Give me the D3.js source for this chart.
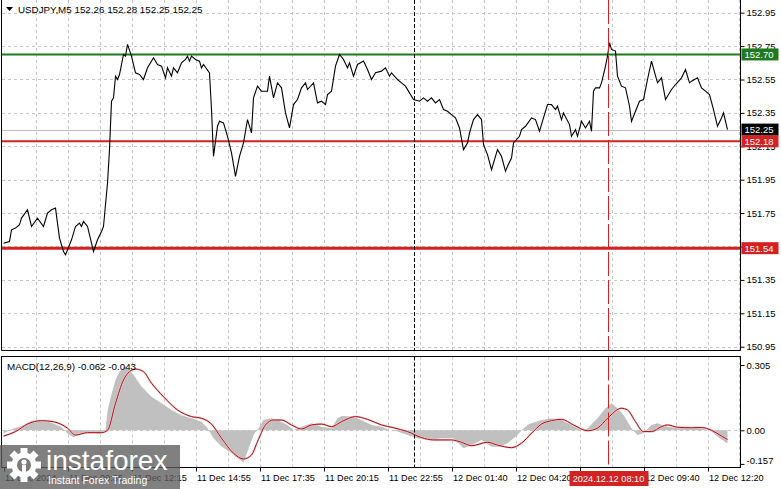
<!DOCTYPE html>
<html><head><meta charset="utf-8">
<script src="https://cdn.jsdelivr.net/npm/d3@7"></script>
<style>
body{margin:0;background:#fff}
svg{display:block}
text{font-family:"Liberation Sans",Arial,sans-serif;fill:#000}
</style>
</head><body>
<svg id="c" width="781" height="489"></svg>
<script>
// ---------------- DATA ----------------
const symbolTitle = "USDJPY,M5  152.26 152.28 152.25 152.25";
const macdTitle = "MACD(12,26,9) -0.062 -0.043";

// price line: bar index (M5 bars) and close
const priceBars = [0,3,4,6,8,9,12,14,17,20,22,24,26,28,30,31,34,36,38,39,40,42,44,45,47,49,50,52,53,54,55,56,57,58,60,61,62,64,66,68,70,72,75,77,79,81,82,84,85,87,89,91,92,93,94,96,98,99,100,103,104,105,107,108,110,112,114,116,118,120,122,124,125,127,129,130,132,133,135,137,139,141,143,145,147,149,151,152,155,157,159,161,162,164,166,168,170,172,173,175,177,180,182,184,186,189,191,193,194,197,199,201,203,205,208,210,212,214,216,218,220,222,224,226,228,230,232,233,235,237,239,240,242,244,247,249,251,252,254,255,258,259,261,264,266,268,270,272,274,276,277,279,280,283,284,286,287,289,291,293,294,295,296,298,299,301,302,303,304,306,307,309,311,313,314,316,318,320,322,324,327,329,331,334,336,339,341,343,344,347,349,351,353,355,357,359,360,362];
const priceValues = [151.57,151.58,151.65,151.66,151.68,151.72,151.77,151.67,151.72,151.67,151.75,151.77,151.78,151.60,151.52,151.50,151.59,151.67,151.69,151.67,151.70,151.67,151.57,151.52,151.59,151.64,151.67,151.93,152.13,152.42,152.44,152.57,152.55,152.58,152.70,152.69,152.76,152.69,152.59,152.58,152.55,152.62,152.68,152.64,152.63,152.56,152.62,152.57,152.62,152.59,152.65,152.67,152.69,152.66,152.69,152.67,152.66,152.62,152.64,152.59,152.37,152.09,152.27,152.30,152.29,152.21,152.11,151.97,152.09,152.17,152.31,152.23,152.44,152.51,152.48,152.48,152.48,152.57,152.44,152.53,152.50,152.35,152.26,152.40,152.43,152.50,152.53,152.49,152.53,152.41,152.42,152.40,152.46,152.48,152.63,152.70,152.67,152.62,152.65,152.57,152.64,152.66,152.61,152.55,152.59,152.60,152.62,152.57,152.59,152.55,152.53,152.51,152.47,152.43,152.42,152.44,152.42,152.44,152.41,152.43,152.37,152.36,152.34,152.32,152.26,152.13,152.17,152.23,152.31,152.34,152.31,152.16,152.10,152.01,152.13,152.09,152.00,152.03,152.08,152.17,152.21,152.25,152.27,152.32,152.31,152.24,152.32,152.40,152.40,152.37,152.39,152.31,152.35,152.28,152.21,152.25,152.21,152.30,152.26,152.30,152.24,152.48,152.50,152.50,152.53,152.63,152.69,152.77,152.73,152.72,152.57,152.51,152.50,152.39,152.30,152.36,152.42,152.43,152.55,152.66,152.53,152.56,152.43,152.49,152.52,152.56,152.61,152.53,152.54,152.56,152.50,152.48,152.46,152.37,152.27,152.32,152.35,152.25];

// MACD histogram (main line)
const macdBars = [0,4,9,14,19,24,29,32,35,39,44,49,51,52,54,56,58,61,65,69,74,79,84,89,94,99,102,105,109,113,116,120,122,125,128,130,134,137,142,145,150,154,159,164,167,169,174,179,184,189,193,197,202,207,212,219,225,230,234,239,244,248,252,257,259,262,264,269,274,279,284,289,292,297,301,304,307,310,314,317,320,324,327,332,337,344,349,354,358,362];
const macdValues = [-0.015,0.005,0.02,0.045,0.048,0.035,0.015,-0.015,-0.033,-0.015,-0.01,-0.015,0,0.09,0.17,0.235,0.274,0.30,0.26,0.204,0.157,0.126,0.095,0.07,0.056,0.04,0.01,-0.037,-0.076,-0.10,-0.123,-0.150,-0.10,-0.022,0.017,0.048,0.056,0.048,0.025,0.0,0.02,0.033,0.017,0.01,0.056,0.067,0.064,0.048,0.025,0.017,0.0,-0.006,-0.022,-0.037,-0.045,-0.037,-0.037,-0.084,-0.069,-0.045,-0.077,-0.077,-0.061,-0.022,0.0,0.025,0.033,0.048,0.056,0.048,0.025,0.0,0.008,0.056,0.103,0.126,0.103,0.071,0.01,-0.022,-0.014,0.025,0.033,0.017,0.01,0.012,0.01,-0.006,-0.037,-0.062];

// MACD signal line
const signalBars = [0,6,12,19,25,32,36,42,49,52,56,60,63,66,70,74,80,87,94,99,104,109,115,120,124,127,131,135,139,144,149,154,159,164,169,176,182,189,195,202,209,215,224,229,234,242,247,254,259,264,269,274,279,285,292,297,302,309,312,316,320,324,329,332,337,344,349,354,359,362];
const signalValues = [-0.027,-0.006,0.029,0.045,0.04,0.01,-0.022,-0.011,-0.011,0,0.126,0.235,0.274,0.286,0.274,0.22,0.157,0.095,0.064,0.056,0.029,-0.037,-0.107,-0.134,-0.115,-0.053,0.025,0.048,0.048,0.025,0.006,0.025,0.029,0.017,0.04,0.064,0.051,0.025,0.012,-0.006,-0.034,-0.045,-0.045,-0.056,-0.072,-0.056,-0.069,-0.081,-0.06,-0.014,0.029,0.045,0.051,0.025,-0.002,0.01,0.056,0.103,0.095,0.04,-0.006,-0.006,0.017,0.025,0.014,0.012,0.013,0,-0.027,-0.043];

const priceTicks = [152.95,152.75,152.55,152.35,152.15,151.95,151.75,151.55,151.35,151.15,150.95];
const macdTicks = [0.305,0,-0.157];
const macdTickLabels = ["0.305","0.00","-0.157"];
const timeTickBars = [0,32,64,96,128,160,192,224,256,288,320,352];
const timeTickLabels = ["11 Dec 2024","11 Dec 09:35","11 Dec 12:15","11 Dec 14:55","11 Dec 17:35","11 Dec 20:15","11 Dec 22:55","12 Dec 01:40","12 Dec 04:20","12 Dec 07:00","12 Dec 09:40","12 Dec 12:20"];

const levelValues = [152.70,152.18,151.54];
const levelKinds = ["resistance","support","support"];
const bidValue = 152.25;
const daySeparatorBar = 205;
const cursorBar = 302;
const cursorLabel = "2024.12.12 08:10";

// ---------------- LAYOUT ----------------
const svg = d3.select("#c");
const axisX = 740.5;
const mainTop = 0, mainBottom = 350.5;
const macdTop = 356.5, macdBottom = 467.5;

const x = d3.scaleLinear().domain([0, 369]).range([3.5, 741.5]);
const y = d3.scaleLinear().domain([150.95, 152.95]).range([346.7, 12.7]);
const ym = d3.scaleLinear().domain([-0.157, 0.305]).range([463.9, 365.0]);

const gridColor = "#c6c6c6";
const green = "#1f7a1f", red = "#d42121";
const FONT = "Liberation Sans, Arial, sans-serif";

// grid: vertical
const vGrid = d3.range(16, 369, 16);
[[mainTop, mainBottom], [macdTop, macdBottom]].forEach(([t, b]) => {
  svg.append("g").selectAll("line").data(vGrid).join("line")
    .attr("x1", d => Math.round(x(d)) + 0.5).attr("x2", d => Math.round(x(d)) + 0.5)
    .attr("y1", t).attr("y2", b)
    .attr("stroke", gridColor).attr("stroke-dasharray", "3,3");
});
// grid: horizontal main
svg.append("g").selectAll("line").data(priceTicks).join("line")
  .attr("x1", 2).attr("x2", axisX)
  .attr("y1", d => Math.round(y(d)) + 0.5).attr("y2", d => Math.round(y(d)) + 0.5)
  .attr("stroke", gridColor).attr("stroke-dasharray", "3,3");
// grid: zero line macd
svg.append("line").attr("x1", 2).attr("x2", axisX)
  .attr("y1", Math.round(ym(0)) + 0.5).attr("y2", Math.round(ym(0)) + 0.5)
  .attr("stroke", gridColor).attr("stroke-dasharray", "3,3");

// bid line
svg.append("line").attr("x1", 2).attr("x2", axisX)
  .attr("y1", Math.round(y(bidValue)) + 0.5).attr("y2", Math.round(y(bidValue)) + 0.5)
  .attr("stroke", "#bdbdbd");

// level lines
levelValues.forEach((v, i) => {
  svg.append("line").attr("x1", 2).attr("x2", axisX)
    .attr("y1", y(v)).attr("y2", y(v))
    .attr("stroke", levelKinds[i] === "resistance" ? green : red)
    .attr("stroke-width", i === 2 ? 3 : 2);
});

// MACD histogram
const macdData = macdBars.map((b, i) => [b, macdValues[i]]);
svg.append("path").datum(macdData)
  .attr("d", d3.area().x(d => x(d[0])).y0(ym(0)).y1(d => ym(d[1])))
  .attr("fill", "#c0c0c0");

// signal line
const sigData = signalBars.map((b, i) => [b, signalValues[i]]);
const sigLine = d3.line().x(d => x(d[0])).y(d => ym(d[1])).curve(d3.curveMonotoneX);
svg.append("path").datum(sigData).attr("d", sigLine)
  .attr("fill", "none").attr("stroke", "#f4c4c4").attr("stroke-width", 2);
svg.append("path").datum(sigData).attr("d", sigLine)
  .attr("fill", "none").attr("stroke", "#a3101a").attr("stroke-width", 1);

// price line
const priceData = priceBars.map((b, i) => [b, priceValues[i]]);
svg.append("path").datum(priceData)
  .attr("d", d3.line().x(d => x(d[0])).y(d => y(d[1])))
  .attr("fill", "none").attr("stroke", "#000").attr("stroke-width", 1.1);

// day separator and cursor
[[mainTop, mainBottom], [macdTop, macdBottom]].forEach(([t, b]) => {
  svg.append("line").attr("x1", Math.round(x(daySeparatorBar)) + 0.5).attr("x2", Math.round(x(daySeparatorBar)) + 0.5)
    .attr("y1", t).attr("y2", b).attr("stroke", "#000").attr("stroke-dasharray", "4,2");
  svg.append("line").attr("x1", Math.round(x(cursorBar)) + 0.5).attr("x2", Math.round(x(cursorBar)) + 0.5)
    .attr("y1", t).attr("y2", b).attr("stroke", red).attr("stroke-dasharray", "24,4");
});

// frames
svg.append("line").attr("x1", 1.5).attr("x2", 1.5).attr("y1", 0).attr("y2", mainBottom).attr("stroke", "#000");
svg.append("line").attr("x1", 1.5).attr("x2", axisX).attr("y1", mainBottom).attr("y2", mainBottom).attr("stroke", "#000");
svg.append("rect").attr("x", 1.5).attr("y", macdTop).attr("width", axisX - 1.5).attr("height", macdBottom - macdTop)
  .attr("fill", "none").attr("stroke", "#000");

// which tick labels are hidden under value boxes (as in the terminal)
const boxValues = [bidValue, ...levelValues];
const priceLabelHidden = d => boxValues.some(v => Math.abs(y(v) - y(d)) < 4);

// right price axis
const yAxis = svg.append("g").attr("transform", `translate(${axisX},0)`)
  .call(d3.axisRight(y).tickValues(priceTicks)
    .tickFormat(d => priceLabelHidden(d) ? "" : d3.format(".2f")(d)).tickSize(4).tickPadding(2));
yAxis.select(".domain").attr("d", `M0,0V${mainBottom}`).attr("stroke", "#000");
yAxis.selectAll("text").attr("font-size", 9.5).attr("font-family", FONT);

// macd axis
const mAxis = svg.append("g").attr("transform", `translate(${axisX},0)`)
  .call(d3.axisRight(ym).tickValues(macdTicks).tickFormat((d, i) => macdTickLabels[i]).tickSize(4).tickPadding(2));
mAxis.select(".domain").remove();
mAxis.selectAll("text").attr("font-size", 9.5).attr("font-family", FONT);
mAxis.selectAll(".tick").filter((d, i) => i === 2).select("text").attr("dy", "-0.05em");

// time axis
const cx = Math.round(x(cursorBar)) + 0.5;
const timeLabelHidden = b => { const px = x(b); return px > cx - 40 && px < cx + 30; };
const xAxis = svg.append("g").attr("transform", `translate(0,${macdBottom})`)
  .call(d3.axisBottom(x).tickValues(timeTickBars)
    .tickFormat((d, i) => timeLabelHidden(d) ? "" : timeTickLabels[i]).tickSize(4).tickPadding(3));
xAxis.select(".domain").remove();
xAxis.selectAll(".tick line").attr("transform", "translate(0.5,0)");
xAxis.selectAll("text").attr("text-anchor", "start").attr("dx", 1).attr("font-size", 9.2)
  .attr("font-family", FONT);

// value label boxes on axis
function axisBox(v, scale, bg, fg, txt) {
  const cy = scale(v);
  svg.append("rect").attr("x", axisX + 1).attr("y", cy - 6).attr("width", 37).attr("height", 12).attr("fill", bg);
  svg.append("text").attr("x", axisX + 4).attr("y", cy + 3.5).attr("font-size", 9.5).style("fill", fg).text(txt);
}
axisBox(bidValue, y, "#000", "#fff", d3.format(".2f")(bidValue));
levelValues.forEach((v, i) => axisBox(v, y, levelKinds[i] === "resistance" ? green : red, "#fff", d3.format(".2f")(v)));

// cursor time label
svg.append("rect").attr("x", cx - 39).attr("y", 471).attr("width", 79).attr("height", 15).attr("fill", red);
svg.append("text").attr("x", cx).attr("y", 482).attr("text-anchor", "middle").attr("font-size", 9.2)
  .style("fill", "#fff").text(cursorLabel);

// titles
svg.append("path").attr("d", "M6,7 L13,7 L9.5,11 Z").attr("fill", "#000");
svg.append("text").attr("x", 18).attr("y", 13).attr("font-size", 9.8).text(symbolTitle);
svg.append("text").attr("x", 7).attr("y", 369.5).attr("font-size", 9.8).text(macdTitle);

// watermark
const wm = svg.append("g");
wm.append("rect").attr("x", 0).attr("y", 445).attr("width", 180).attr("height", 44)
  .attr("fill", "#5c5c5c").attr("fill-opacity", 0.78);
const gear = wm.append("g").attr("transform", "translate(24,465)");
d3.range(8).forEach(k => {
  gear.append("rect").attr("x", -3.5).attr("y", -17).attr("width", 7).attr("height", 8)
    .attr("fill", "#fff").attr("transform", `rotate(${k * 45})`);
});
gear.append("circle").attr("r", 12.5).attr("fill", "#fff");
gear.append("circle").attr("r", 7).attr("fill", "#7a7a7a");
gear.append("circle").attr("cy", -3).attr("r", 2.6).attr("fill", "#fff");
gear.append("rect").attr("x", -2).attr("y", 0).attr("width", 4).attr("height", 13).attr("fill", "#fff");
wm.append("text").attr("x", 46).attr("y", 470).attr("font-size", 28)
  .attr("font-family", "Open Sans, sans-serif").style("fill", "#fff").text("instaforex");
wm.append("text").attr("x", 48).attr("y", 484).attr("font-size", 10.5)
  .attr("font-family", "Open Sans, sans-serif").style("fill", "#fff").text("Instant Forex Trading");
</script>
</body></html>
